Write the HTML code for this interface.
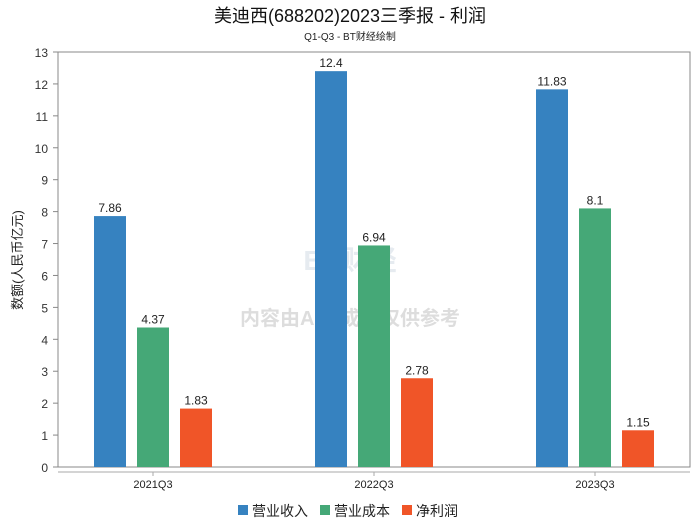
<!DOCTYPE html>
<html><head><meta charset="utf-8"><style>
body{margin:0;background:#fff;font-family:"Liberation Sans","Noto Sans CJK SC",sans-serif;}
</style></head><body>
<svg id="c" width="700" height="524" xmlns="http://www.w3.org/2000/svg" font-family="Liberation Sans, Noto Sans CJK SC, sans-serif">
<text x="350" y="22" text-anchor="middle" font-size="18" fill="#111">美迪西(688202)2023三季报 - 利润</text>
<text x="350" y="40" text-anchor="middle" font-size="10" fill="#222">Q1-Q3 - BT财经绘制</text>
<text transform="translate(22,260) rotate(-90)" text-anchor="middle" font-size="13" fill="#222">数额(人民币亿元)</text>
<rect x="58" y="52" width="632" height="415" fill="none" stroke="#888"/>
<line x1="58" y1="472" x2="690" y2="472" stroke="#aaa"/>
<text x="350" y="325" text-anchor="middle" font-size="20" fill="#ddd" font-weight="bold">内容由AI生成，仅供参考</text>
<text x="350" y="270" text-anchor="middle" font-size="28" fill="#e6ebf0" font-weight="bold">BT财经</text>
<g id="g"></g>
<g font-size="14" fill="#222">
<rect x="238" y="505" width="10" height="10" fill="#3682c0"/><text x="252" y="516">营业收入</text>
<rect x="320" y="505" width="10" height="10" fill="#45a877"/><text x="334" y="516">营业成本</text>
<rect x="402" y="505" width="10" height="10" fill="#f05528"/><text x="416" y="516">净利润</text>
</g>
</svg>
<script>
const categories=["2021Q3","2022Q3","2023Q3"];
const revenue=[7.86,12.4,11.83];
const cost=[4.37,6.94,8.1];
const profit=[1.83,2.78,1.15];
const yTicks=[0,1,2,3,4,5,6,7,8,9,10,11,12,13];
const colors=["#3682c0","#45a877","#f05528"];
const series=[revenue,cost,profit];
const names=["revenue","cost","profit"];
const NS="http://www.w3.org/2000/svg";
const g=document.getElementById('g');
const y=v=>467-v*(415/13);
const xc=i=>153+i*221;
function mk(t,a){const e=document.createElementNS(NS,t);for(const k in a)e.setAttribute(k,a[k]);g.appendChild(e);return e;}
yTicks.forEach(t=>{
 const l=mk('line',{x1:53,x2:58,y1:y(t),y2:y(t),stroke:'#888'});
 
 
 const tx=mk('text',{x:48,y:y(t)+5,'text-anchor':'end','font-size':12,fill:'#333'});tx.textContent=t;
 
 
});
categories.forEach((c,i)=>{
 const tx=mk('text',{x:xc(i),y:488,'text-anchor':'middle','font-size':11,fill:'#222'});tx.textContent=c;
 
 
 mk('line',{x1:xc(i),x2:xc(i),y1:472,y2:476,stroke:'#aaa'});
 series.forEach((s,j)=>{
  const x=xc(i)+(j-1)*43-16;
  const r=mk('rect',{x:x,y:y(s[i]),width:32,height:467-y(s[i]),fill:colors[j]});
  
  
  const v=mk('text',{x:x+16,y:y(s[i])-4,'text-anchor':'middle','font-size':12,fill:'#222'});v.textContent=s[i];
  
  
 });
});
</script>
</body></html>
